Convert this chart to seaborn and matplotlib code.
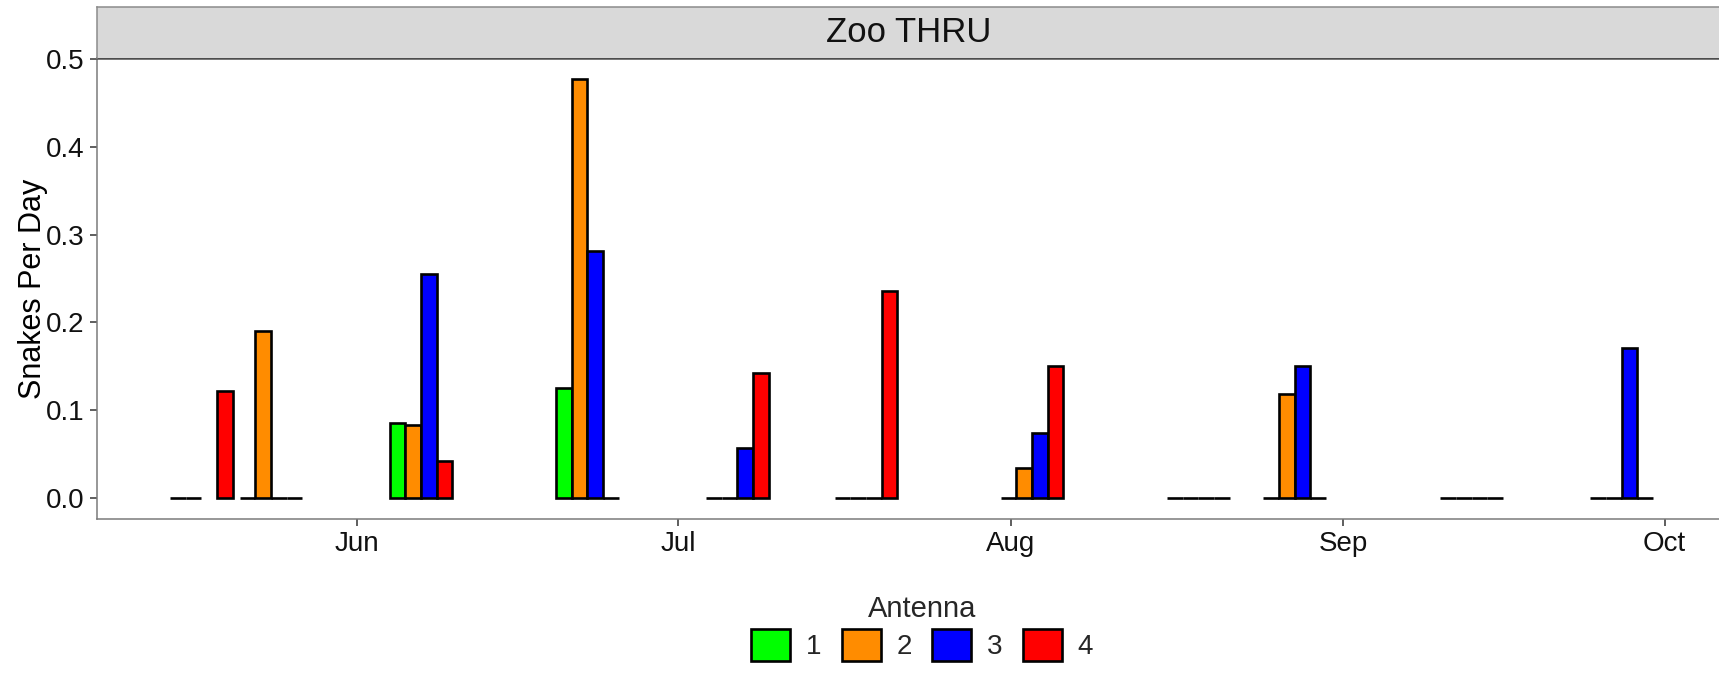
import numpy as np
import pandas as pd
import matplotlib
matplotlib.use("Agg")
import matplotlib.pyplot as plt
import matplotlib.dates as mdates
import matplotlib.patches as mpatches
import seaborn as sns

# Survey period midpoints and snakes-per-day rates for each antenna
dates = ["2017-05-17 12:00", "2017-05-24 00:00", "2017-06-07 00:00", "2017-06-22 12:00",
         "2017-07-06 12:00", "2017-07-18 12:00", "2017-08-03 00:00", "2017-08-18 12:00",
         "2017-08-27 12:00", "2017-09-13 00:00", "2017-09-27 00:00"]
antennas = ["1", "2", "3", "4"]
antenna1 = [0, 0, 0.085, 0.125, 0, 0, 0, 0, 0, 0, 0]
antenna2 = [0, 0.190, 0.083, 0.477, 0, 0, 0.034, 0, 0.118, 0, 0]
antenna3 = [np.nan, 0, 0.255, 0.281, 0.057, 0, 0.074, 0, 0.150, 0, 0.171]
antenna4 = [0.122, 0, 0.042, 0, 0.142, 0.236, 0.150, 0, 0, 0, 0]
site = "Zoo THRU"
colors = ["#00FF00", "#FF8C00", "#0000FF", "#FF0000"]

date_num = mdates.date2num(pd.to_datetime(dates))
rows = []
for ant, vals in zip(antennas, [antenna1, antenna2, antenna3, antenna4]):
    for d, v in zip(date_num, vals):
        rows.append({"date": d, "rate": v, "Antenna": ant})
df = pd.DataFrame(rows).dropna()
palette = dict(zip(antennas, colors))

sns.set_theme(style="white")
plt.rcParams["font.family"] = ["Liberation Sans", "DejaVu Sans"]

W, H = 1719, 680
fig = plt.figure(figsize=(W / 100, H / 100), dpi=100)
left_px, right_px, top_px, bottom_px = 96.5, 1721, 58.3, 518.5
ax = fig.add_axes([left_px / W, 1 - bottom_px / H,
                   (right_px - left_px) / W, (bottom_px - top_px) / H])

sns.barplot(data=df, x="date", y="rate", hue="Antenna", hue_order=antennas,
            palette=palette, saturation=1, native_scale=True, width=0.9,
            errorbar=None, edgecolor="black", linewidth=1.9, legend=False, ax=ax)

jun1 = mdates.date2num(pd.Timestamp("2017-06-01"))
ax.set_xlim(jun1 + (left_px - 356.7) / 10.72, jun1 + (right_px - 356.7) / 10.72)
ax.set_ylim(-0.0239, 0.501)
ax.set_yticks([0.0, 0.1, 0.2, 0.3, 0.4, 0.5])
ax.yaxis.set_major_formatter(matplotlib.ticker.FormatStrFormatter("%.1f"))
ax.xaxis.set_major_locator(mdates.MonthLocator())
ax.xaxis.set_major_formatter(mdates.DateFormatter("%b"))

ax.set_xlabel("")
ax.set_ylabel("Snakes Per Day", fontsize=22, color="black", labelpad=-2)
ax.tick_params(axis="both", which="major", length=5, width=1.1, color="#333333",
               labelsize=20, labelcolor="#111111", pad=4, bottom=True, left=True)
ax.set_facecolor("white")
for side in ["left", "bottom"]:
    ax.spines[side].set_color("#7a7a7a")
    ax.spines[side].set_linewidth(1.1)
ax.spines["right"].set_visible(False)
ax.spines["top"].set_color("#4d4d4d")
ax.spines["top"].set_linewidth(1.8)
ax.spines["top"].set_zorder(5)

# Facet strip
strip = fig.add_axes([left_px / W, 1 - top_px / H,
                      (right_px - left_px) / W, (top_px - 6.7) / H])
strip.set_facecolor("#D9D9D9")
strip.set_xticks([])
strip.set_yticks([])
for side in ["left", "top", "right"]:
    strip.spines[side].set_color("#8c8c8c")
    strip.spines[side].set_linewidth(1.1)
strip.spines["bottom"].set_visible(False)
strip.text(0.5, 0.5, site, ha="center", va="center", fontsize=25,
           color="#111111", transform=strip.transAxes)

handles = [mpatches.Patch(facecolor=c, edgecolor="black", linewidth=1.9, label=a)
           for a, c in zip(antennas, colors)]
leg = fig.legend(handles=handles, title="Antenna", ncol=4, loc="center",
                 bbox_to_anchor=(922 / W, 1 - 628 / H), frameon=False,
                 fontsize=20, title_fontsize=21, handlelength=1.4, handleheight=1.4,
                 handletextpad=0.55, columnspacing=0.75, borderpad=0.1, labelspacing=0.2)

fig.savefig("out.png", dpi=100)
